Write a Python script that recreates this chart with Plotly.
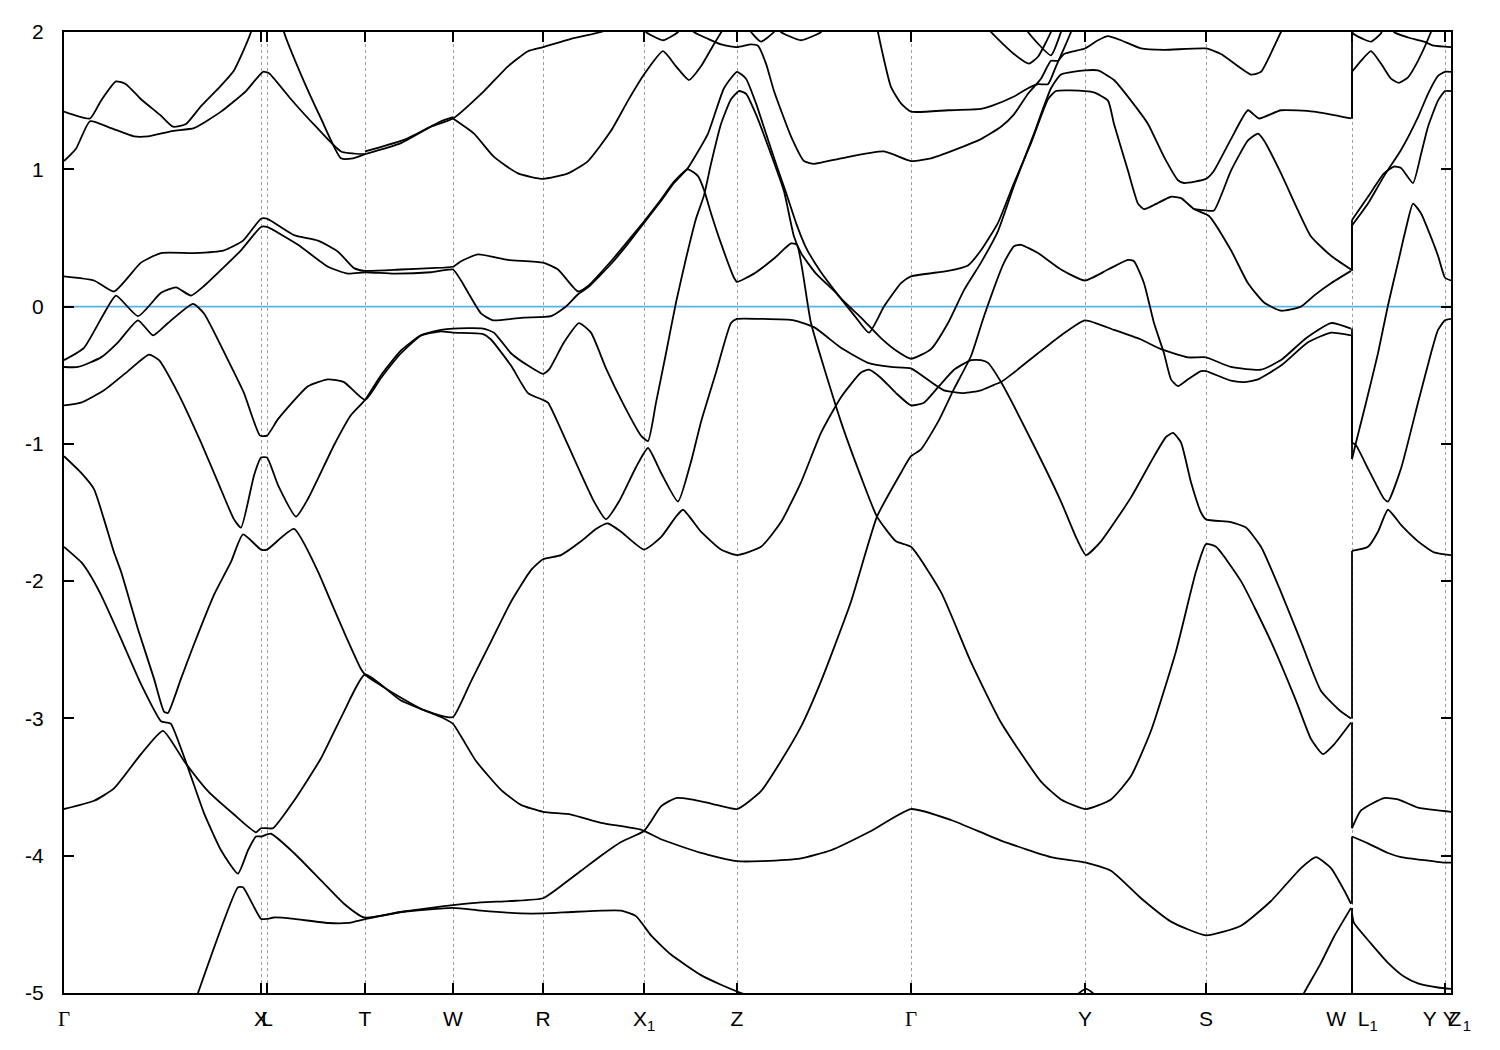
import plotly.graph_objects as go

# ---------------- high-symmetry path ----------------
k_ticks = [0.00, 1.97, 2.03, 3.01, 3.89, 4.79, 5.80, 6.73, 8.47, 10.21, 11.42, 12.88, 13.81, 13.87]
G = '<span style="font-family:Liberation Serif">Γ</span>'
tick_labels = [G, "X", "L", "T", "W", "R", "X<sub>1</sub>", "Z", G, "Y", "S",
               "W\u00a0\u00a0L<sub>1</sub>", "Y\u00a0\u00a0Z\u00a0", "\u00a0\u00a0Y\u00a0<sub>1</sub>"]
e_ticks = [-5, -4, -3, -2, -1, 0, 1, 2]
e_labels = ["-5", "-4", "-3", "-2", "-1", "0", "1", "2"]
fermi_level = 0.0
k_wl1 = 12.88  # W and L1 share the same path coordinate (discontinuity)

# ---------------- bands: (k, E) ----------------
band_a1 = [(0, 1.42), (.26, 1.37), (.37, 1.50), (.52, 1.64), (.62, 1.62), (.77, 1.51), (.97, 1.39),
           (1.09, 1.31), (1.22, 1.33), (1.37, 1.46), (1.57, 1.61), (1.70, 1.72), (1.87, 2.0), (1.95, 2.3)]
band_a2 = [(0, 1.06), (.12, 1.15), (.26, 1.35), (.47, 1.30), (.70, 1.24), (.84, 1.24), (1.09, 1.28),
           (1.30, 1.30), (1.57, 1.42), (1.82, 1.57), (1.99, 1.71), (2.05, 1.70), (2.27, 1.51),
           (2.52, 1.31), (2.77, 1.13), (3.01, 1.11)]
band_a3 = [(2.15, 2.25), (2.20, 2.0), (2.37, 1.69), (2.57, 1.37), (2.77, 1.08), (2.89, 1.08), (3.01, 1.11)]
band_c1 = [(0, 0.22), (.30, 0.19), (.50, 0.11), (.77, 0.32), (.97, 0.39), (1.30, 0.39), (1.60, 0.41),
           (1.79, 0.48), (1.97, 0.64), (2.03, 0.64), (2.30, 0.52), (2.54, 0.48), (2.74, 0.40), (2.90, 0.28),
           (3.01, 0.26), (3.37, 0.27), (3.67, 0.28), (3.89, 0.29), (3.97, 0.33), (4.14, 0.38), (4.44, 0.34),
           (4.79, 0.32), (4.94, 0.27), (5.14, 0.11), (5.24, 0.15), (5.47, 0.33), (5.62, 0.46), (5.80, 0.62),
           (5.97, 0.78), (6.10, 0.91), (6.24, 1.00), (6.34, 0.95), (6.40, 0.85), (6.47, 0.68), (6.57, 0.46),
           (6.70, 0.21), (6.73, 0.18), (6.90, 0.24), (7.10, 0.35), (7.27, 0.46), (7.33, 0.45), (7.47, -0.12),
           (7.77, -0.84), (7.97, -1.24), (8.13, -1.53), (8.32, -1.71), (8.47, -1.75),
           (8.77, -2.08), (9.07, -2.59), (9.37, -3.03), (9.77, -3.46), (9.97, -3.59), (10.22, -3.66),
           (10.47, -3.59), (10.67, -3.42), (10.87, -3.09), (11.12, -2.51), (11.32, -1.93), (11.42, -1.73),
           (11.52, -1.75), (11.77, -2.00), (12.07, -2.44), (12.32, -2.87), (12.47, -3.15), (12.59, -3.26),
           (12.70, -3.19), (12.87, -3.03)]
band_c2 = [(0, -0.39), (.20, -0.30), (.40, -0.05), (.52, 0.08), (.74, -0.07), (.97, 0.10), (1.12, 0.14),
           (1.27, 0.08), (1.40, 0.15), (1.77, 0.41), (1.97, 0.58), (2.03, 0.58), (2.34, 0.45), (2.64, 0.29),
           (2.84, 0.24), (3.01, 0.25), (3.30, 0.24), (3.67, 0.25), (3.89, 0.27), (3.97, 0.19), (4.17, -0.05),
           (4.29, -0.10), (4.60, -0.08), (4.87, -0.07), (5.02, 0.00), (5.14, 0.09), (5.24, 0.14), (5.47, 0.31),
           (5.62, 0.44), (5.80, 0.61), (5.97, 0.77), (6.10, 0.90), (6.24, 1.01), (6.30, 1.08), (6.44, 1.26),
           (6.60, 1.59), (6.73, 1.71), (6.82, 1.66), (6.92, 1.48), (7.02, 1.26), (7.12, 1.04), (7.22, 0.83),
           (7.32, 0.61), (7.42, 0.43), (7.57, 0.25), (7.77, 0.06), (7.97, -0.08), (8.17, -0.23), (8.32, -0.32),
           (8.47, -0.38), (8.67, -0.31), (8.84, -0.12), (9.00, 0.12), (9.17, 0.32), (9.34, 0.55), (9.50, 0.88),
           (9.70, 1.26), (9.87, 1.59), (9.97, 1.69), (10.21, 1.72), (10.34, 1.72), (10.50, 1.65), (10.67, 1.50),
           (10.84, 1.33), (11.00, 1.09), (11.14, 0.92), (11.20, 0.90), (11.42, 0.93), (11.50, 0.99),
           (11.67, 1.22), (11.84, 1.43), (11.95, 1.37), (12.17, 1.43), (12.50, 1.42), (12.87, 1.37)]
band_c3 = [(0, -0.44), (.14, -0.44), (.37, -0.37), (.54, -0.26), (.74, -0.10), (.89, -0.21), (1.04, -0.12),
           (1.29, 0.02), (1.40, -0.05), (1.64, -0.39), (1.80, -0.63), (1.96, -0.94), (2.03, -0.94), (2.14, -0.82),
           (2.44, -0.58), (2.64, -0.53), (2.80, -0.55), (3.01, -0.68), (3.17, -0.52), (3.37, -0.34), (3.57, -0.21),
           (3.77, -0.17), (3.89, -0.16), (4.19, -0.16), (4.30, -0.19), (4.47, -0.34), (4.64, -0.43), (4.79, -0.49),
           (4.85, -0.46), (5.00, -0.26), (5.15, -0.12), (5.27, -0.19), (5.42, -0.45), (5.60, -0.72), (5.77, -0.94),
           (5.84, -0.98), (5.92, -0.70), (6.02, -0.34), (6.12, 0.03), (6.22, 0.35), (6.32, 0.64), (6.40, 0.81),
           (6.47, 1.04), (6.57, 1.33), (6.67, 1.51), (6.75, 1.57), (6.82, 1.55), (6.92, 1.40), (7.07, 1.11),
           (7.20, 0.84), (7.30, 0.51), (7.37, 0.39), (7.52, 0.24), (7.72, 0.10), (7.92, -0.08), (8.05, -0.19),
           (8.20, 0.00), (8.37, 0.17), (8.47, 0.22), (8.84, 0.26), (9.04, 0.30), (9.17, 0.41), (9.34, 0.61),
           (9.50, 0.90), (9.67, 1.19), (9.84, 1.51), (9.92, 1.57), (10.21, 1.57), (10.30, 1.56), (10.44, 1.50),
           (10.50, 1.33), (10.64, 0.99), (10.74, 0.75), (10.80, 0.71), (10.90, 0.74), (11.07, 0.80),
           (11.17, 0.79), (11.30, 0.71), (11.45, 0.66), (11.67, 0.41), (11.84, 0.17), (12.00, 0.03),
           (12.17, -0.03), (12.37, 0.00), (12.50, 0.08), (12.67, 0.17), (12.87, 0.26)]
band_c4 = [(0, -0.72), (.17, -0.70), (.40, -0.61), (.64, -0.47), (.85, -0.35), (.95, -0.39), (1.14, -0.63),
           (1.37, -0.99), (1.54, -1.28), (1.70, -1.55), (1.77, -1.61), (1.90, -1.23), (1.97, -1.10), (2.03, -1.10),
           (2.14, -1.30), (2.32, -1.53), (2.44, -1.40), (2.70, -1.01), (2.87, -0.79), (3.01, -0.68), (3.17, -0.50),
           (3.37, -0.32), (3.57, -0.21), (3.77, -0.18), (3.89, -0.19), (4.19, -0.20), (4.27, -0.24), (4.47, -0.43),
           (4.64, -0.63), (4.79, -0.68), (4.84, -0.70), (5.04, -1.01), (5.30, -1.42), (5.42, -1.55), (5.55, -1.42),
           (5.72, -1.17), (5.84, -1.03), (5.97, -1.21), (6.14, -1.42), (6.27, -1.13), (6.37, -0.84), (6.52, -0.48),
           (6.67, -0.12), (6.73, -0.09), (6.97, -0.09), (7.30, -0.10), (7.50, -0.15), (7.77, -0.30), (8.04, -0.41),
           (8.27, -0.44), (8.47, -0.45), (8.67, -0.55), (8.80, -0.61), (9.00, -0.63), (9.17, -0.61),
           (9.30, -0.57), (9.37, -0.55), (9.50, -0.48), (9.74, -0.34), (9.97, -0.21), (10.21, -0.10),
           (10.50, -0.17), (10.77, -0.24), (10.97, -0.31), (11.24, -0.37), (11.42, -0.37), (11.67, -0.44),
           (11.97, -0.46), (12.17, -0.39), (12.42, -0.23), (12.67, -0.12), (12.87, -0.16)]
band_c5 = [(0, -1.09), (.17, -1.21), (.30, -1.33), (.40, -1.55), (.50, -1.79), (.57, -1.93), (.74, -2.35),
           (.90, -2.71), (1.00, -2.95), (1.04, -2.96), (1.17, -2.71), (1.30, -2.46), (1.50, -2.10), (1.67, -1.86),
           (1.79, -1.66), (1.97, -1.77), (2.03, -1.77), (2.30, -1.62), (2.54, -1.93), (2.64, -2.10), (2.80, -2.37),
           (2.97, -2.64), (3.01, -2.68), (3.17, -2.76), (3.37, -2.85), (3.57, -2.93), (3.77, -2.98), (3.89, -2.99),
           (4.07, -2.73), (4.27, -2.44), (4.47, -2.15), (4.67, -1.92), (4.79, -1.84), (4.97, -1.81), (5.17, -1.71),
           (5.32, -1.62), (5.44, -1.58), (5.57, -1.64), (5.80, -1.77), (5.97, -1.68), (6.12, -1.53), (6.19, -1.48),
           (6.37, -1.64), (6.57, -1.77), (6.73, -1.81), (6.97, -1.75), (7.17, -1.57), (7.37, -1.28), (7.57, -0.92),
           (7.77, -0.66), (7.97, -0.48), (8.05, -0.46), (8.17, -0.52), (8.32, -0.63), (8.47, -0.72),
           (8.60, -0.70), (8.75, -0.58), (8.90, -0.46), (9.07, -0.39), (9.17, -0.39), (9.24, -0.41),
           (9.37, -0.55), (9.67, -0.97), (9.97, -1.42), (10.12, -1.68), (10.22, -1.81), (10.37, -1.71),
           (10.67, -1.39), (10.87, -1.13), (11.02, -0.95), (11.09, -0.92), (11.17, -0.99), (11.27, -1.28),
           (11.37, -1.50), (11.42, -1.55), (11.67, -1.57), (11.82, -1.61), (11.97, -1.75), (12.17, -2.08),
           (12.37, -2.44), (12.57, -2.80), (12.77, -2.95), (12.87, -3.00)]
band_c6 = [(0, -1.75), (.17, -1.86), (.24, -1.93), (.37, -2.10), (.57, -2.42), (.77, -2.75), (.97, -3.02),
           (1.03, -3.03), (1.07, -3.04), (1.24, -3.36), (1.40, -3.69), (1.57, -3.96), (1.74, -4.13), (1.84, -3.96),
           (1.92, -3.86), (1.97, -3.86), (2.07, -3.84), (2.30, -3.98), (2.57, -4.18), (2.80, -4.35), (3.00, -4.45),
           (3.37, -4.41), (3.67, -4.38), (3.89, -4.36), (4.17, -4.34), (4.47, -4.33), (4.79, -4.31), (4.97, -4.22),
           (5.17, -4.11), (5.37, -4.00), (5.57, -3.90), (5.80, -3.82), (5.87, -3.75), (5.97, -3.64), (6.12, -3.58),
           (6.27, -3.59), (6.47, -3.62), (6.73, -3.66), (6.97, -3.53), (7.17, -3.31), (7.37, -3.06), (7.57, -2.73),
           (7.87, -2.15), (8.13, -1.53), (8.37, -1.21), (8.47, -1.09), (8.57, -1.04), (8.74, -0.84),
           (8.90, -0.60), (9.07, -0.36), (9.20, -0.07), (9.40, 0.32), (9.50, 0.44), (9.57, 0.45), (9.74, 0.39),
           (9.97, 0.27), (10.21, 0.19), (10.44, 0.27), (10.64, 0.34), (10.70, 0.33), (10.80, 0.17),
           (10.90, -0.12), (11.00, -0.34), (11.07, -0.53), (11.14, -0.58), (11.24, -0.53), (11.37, -0.47),
           (11.42, -0.47), (11.67, -0.54), (11.80, -0.55), (11.94, -0.53), (12.17, -0.43), (12.44, -0.26),
           (12.67, -0.19), (12.87, -0.21)]
band_c7 = [(0, -3.66), (.30, -3.60), (.50, -3.51), (.77, -3.26), (.99, -3.09), (1.20, -3.31), (1.44, -3.53),
           (1.70, -3.70), (1.92, -3.83), (1.97, -3.80), (2.03, -3.80), (2.09, -3.80), (2.30, -3.60), (2.57, -3.29),
           (2.80, -2.95), (3.01, -2.68), (3.37, -2.87), (3.77, -2.99), (3.89, -3.04), (3.97, -3.13), (4.12, -3.31),
           (4.37, -3.52), (4.57, -3.63), (4.79, -3.68), (5.07, -3.70), (5.37, -3.76), (5.77, -3.81), (5.97, -3.88),
           (6.37, -3.98), (6.73, -4.04), (6.97, -4.04), (7.37, -4.02), (7.67, -3.96), (8.07, -3.82), (8.47, -3.66),
           (8.87, -3.74), (9.37, -3.89), (9.87, -4.01), (10.22, -4.05), (10.47, -4.11), (10.77, -4.31),
           (11.07, -4.48), (11.42, -4.58), (11.77, -4.51), (12.07, -4.33), (12.37, -4.09), (12.52, -4.01),
           (12.67, -4.09), (12.80, -4.25), (12.87, -4.35)]
band_c8 = [(1.27, -5.15), (1.34, -5.0), (1.74, -4.23), (1.79, -4.23), (1.97, -4.46), (2.03, -4.46), (2.10, -4.45),
           (2.30, -4.46), (2.64, -4.49), (2.84, -4.49), (3.02, -4.46), (3.37, -4.41), (3.89, -4.38), (4.17, -4.40),
           (4.57, -4.42), (4.79, -4.42), (5.07, -4.41), (5.37, -4.40), (5.57, -4.40), (5.72, -4.44), (5.87, -4.58),
           (6.07, -4.72), (6.37, -4.87), (6.57, -4.94), (6.77, -5.0), (6.97, -5.05)]
band_u1 = [(3.01, 1.11), (3.37, 1.19), (3.67, 1.31), (3.89, 1.37), (4.20, 1.57), (4.44, 1.75), (4.64, 1.86),
           (4.79, 1.89), (5.07, 1.95), (5.37, 2.0), (5.57, 2.06)]
band_u1b = [(3.01, 1.13), (3.42, 1.22), (3.77, 1.35), (3.89, 1.38)]
band_u2 = [(3.89, 1.37), (4.10, 1.26), (4.30, 1.09), (4.54, 0.97), (4.79, 0.93), (5.04, 0.97), (5.24, 1.06),
           (5.47, 1.28), (5.64, 1.50), (5.80, 1.69), (5.99, 1.86), (6.12, 1.75), (6.25, 1.65), (6.37, 1.75),
           (6.49, 1.90), (6.59, 2.02)]
band_u3 = [(6.25, 2.05), (6.30, 2.0), (6.44, 1.95), (6.57, 1.91), (6.73, 1.89), (6.87, 1.91), (6.94, 1.90),
           (7.02, 1.77), (7.10, 1.57), (7.27, 1.24), (7.40, 1.06), (7.50, 1.04), (7.77, 1.08), (8.20, 1.13),
           (8.47, 1.06), (8.67, 1.08), (8.90, 1.14), (9.17, 1.22), (9.37, 1.31), (9.50, 1.40), (9.64, 1.55),
           (9.77, 1.66), (9.87, 1.79), (9.94, 1.79), (10.00, 1.84), (10.21, 1.88), (10.34, 1.94), (10.44, 1.97),
           (10.57, 1.94), (10.77, 1.88), (11.00, 1.87), (11.42, 1.88), (11.57, 1.84), (11.87, 1.69),
           (11.97, 1.71), (12.17, 2.0), (12.22, 2.06)]
band_u5 = [(6.82, 2.06), (6.87, 2.0), (6.97, 1.93), (7.10, 2.0), (7.15, 2.06)]
band_u6 = [(7.12, 2.06), (7.17, 2.0), (7.37, 1.94), (7.57, 2.0), (7.62, 2.06)]
band_u7 = [(5.77, 2.06), (5.82, 2.0), (5.99, 1.94), (6.14, 2.0), (6.19, 2.06)]
band_u8 = [(8.10, 2.2), (8.14, 2.0), (8.27, 1.60), (8.37, 1.48), (8.47, 1.42), (8.84, 1.43), (9.17, 1.44),
           (9.27, 1.46), (9.50, 1.53), (9.64, 1.59), (9.74, 1.62), (9.84, 1.62), (9.92, 1.75), (10.00, 1.88),
           (10.07, 2.0), (10.10, 2.06)]
band_u9 = [(9.22, 2.06), (9.27, 2.0), (9.50, 1.84), (9.65, 1.77), (9.74, 1.82), (9.87, 2.0), (9.90, 2.06)]
band_u10 = [(9.60, 2.06), (9.64, 2.0), (9.87, 1.83), (9.97, 2.0), (10.00, 2.06)]
band_s1 = [(11.30, 0.71), (11.42, 0.70), (11.50, 0.70), (11.67, 0.99), (11.84, 1.21), (11.94, 1.26),
           (12.00, 1.21), (12.17, 0.97), (12.34, 0.70), (12.47, 0.51), (12.67, 0.37), (12.87, 0.27)]
band_s2 = [(12.34, -5.09), (12.40, -5.0), (12.57, -4.78), (12.70, -4.59), (12.87, -4.38)]
band_y1 = [(10.07, -5.05), (10.22, -4.97), (10.37, -5.05)]
band_l1 = [(12.88, -4.42), (12.90, -4.49), (13.07, -4.64), (13.24, -4.78), (13.40, -4.88), (13.54, -4.93),
           (13.74, -4.96), (13.87, -4.97)]
band_l2 = [(12.88, -3.86), (13.04, -3.91), (13.24, -3.98), (13.37, -4.01), (13.57, -4.03), (13.80, -4.05),
           (13.87, -4.05)]
band_l3 = [(12.88, -3.80), (12.97, -3.67), (13.20, -3.58), (13.34, -3.59), (13.54, -3.65), (13.74, -3.67),
           (13.87, -3.68)]
band_l4 = [(12.88, -1.78), (13.04, -1.75), (13.14, -1.64), (13.24, -1.48), (13.37, -1.59), (13.54, -1.71),
           (13.70, -1.79), (13.87, -1.81)]
band_l5 = [(12.88, -1.11), (12.92, -0.99), (13.02, -0.70), (13.14, -0.34), (13.24, 0.01), (13.34, 0.32),
           (13.42, 0.57), (13.49, 0.75), (13.57, 0.68), (13.64, 0.56), (13.74, 0.37), (13.81, 0.21), (13.87, 0.19)]
band_l6 = [(12.88, -0.99), (12.92, -1.01), (13.04, -1.18), (13.20, -1.40), (13.24, -1.42), (13.37, -1.18),
           (13.54, -0.70), (13.67, -0.34), (13.74, -0.17), (13.81, -0.10), (13.87, -0.09)]
band_l7 = [(12.88, 0.63), (13.04, 0.80), (13.20, 0.97), (13.30, 1.02), (13.37, 1.01), (13.49, 0.90),
           (13.57, 1.11), (13.64, 1.31), (13.74, 1.50), (13.81, 1.57), (13.87, 1.57)]
band_l8 = [(12.88, 0.59), (13.04, 0.75), (13.20, 0.95), (13.37, 1.14), (13.54, 1.38), (13.64, 1.55),
           (13.74, 1.68), (13.81, 1.71), (13.87, 1.71)]
band_l9 = [(12.88, 1.71), (12.97, 1.79), (13.07, 1.86), (13.17, 1.77), (13.27, 1.66), (13.35, 1.63),
           (13.44, 1.67), (13.54, 1.79), (13.67, 2.0), (13.70, 2.06)]
band_l10 = [(12.87, 2.06), (12.89, 1.99), (12.99, 1.95), (13.07, 1.93), (13.17, 1.99), (13.20, 2.06)]
band_l11 = [(13.27, 2.06), (13.30, 2.0), (13.44, 1.96), (13.60, 1.93), (13.70, 1.90), (13.87, 1.89)]

# energy jumps at the W | L1 discontinuity: (E at W, E at L1)
wl1_jumps = [(-5.5, -4.42), (-4.38, -5.5), (-4.35, -3.86), (-3.03, -3.80), (-3.00, -1.78), (-0.21, -1.11),
             (-0.16, -0.99), (0.26, 0.59), (0.27, 0.63), (1.37, 1.71), (1.37, 2.5)]

bands = [band_a1, band_a2, band_a3, band_c1, band_c2, band_c3, band_c4, band_c5, band_c6, band_c7,
         band_c8, band_u1, band_u1b, band_u2, band_u3, band_u5, band_u6, band_u7, band_u8, band_u9,
         band_u10, band_s1, band_s2, band_y1, band_l1, band_l2, band_l3, band_l4, band_l5, band_l6,
         band_l7, band_l8, band_l9, band_l10, band_l11]

fig = go.Figure()
for b in bands:
    fig.add_trace(go.Scatter(x=[p[0] for p in b], y=[p[1] for p in b], mode="lines",
                             line=dict(color="black", width=1.8, shape="spline", smoothing=0.5),
                             hoverinfo="skip", showlegend=False))

jx, jy = [], []
for ew, el in wl1_jumps:
    jx += [k_wl1, k_wl1, None]
    jy += [ew, el, None]
fig.add_trace(go.Scatter(x=jx, y=jy, mode="lines", line=dict(color="black", width=1.8),
                         hoverinfo="skip", showlegend=False))

fig.add_shape(type="line", xref="paper", x0=0, x1=1, yref="y", y0=fermi_level, y1=fermi_level,
              line=dict(color="#56B4E9", width=1.8), layer="below")

font = dict(family="Liberation Sans, Arial, sans-serif", size=21, color="black")
fig.update_layout(
    width=1500, height=1050,
    margin=dict(l=56, r=57, t=20, b=65),
    paper_bgcolor="white", plot_bgcolor="white",
    showlegend=False, font=font,
    xaxis=dict(range=[k_ticks[0], k_ticks[-1]], tickmode="array", tickvals=k_ticks, ticktext=tick_labels,
               tickangle=0, ticks="inside", ticklen=10, tickwidth=1.5, tickcolor="black",
               showline=True, linecolor="black", linewidth=2, mirror="ticks",
               showgrid=True, gridcolor="#a0a0a0", gridwidth=1, griddash="3px,3px",
               zeroline=False, ticklabelstandoff=6, tickfont=font),
    yaxis=dict(range=[e_ticks[0], e_ticks[-1]], tickmode="array", tickvals=e_ticks, ticktext=e_labels,
               ticks="inside", ticklen=10, tickwidth=1.5, tickcolor="black",
               showline=True, linecolor="black", linewidth=2, mirror="ticks",
               showgrid=False, zeroline=False, ticklabelstandoff=14, tickfont=font),
)

fig.write_html("out.html")
